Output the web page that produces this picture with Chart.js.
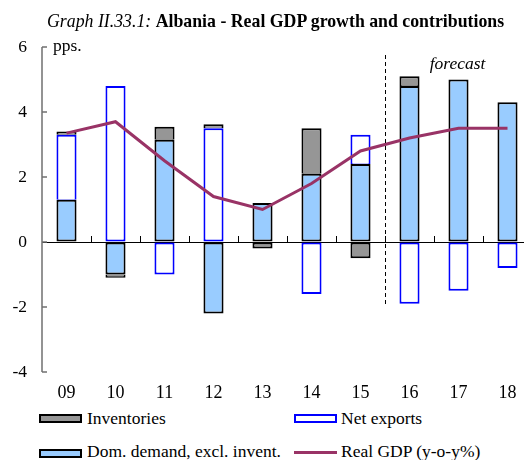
<!DOCTYPE html>
<html>
<head>
<meta charset="utf-8">
<script src="https://cdn.jsdelivr.net/npm/chart.js@4.4.1/dist/chart.umd.min.js"></script>
<style>
html, body { margin: 0; padding: 0; overflow: hidden; background: #fff; }
body { font-family: "Liberation Serif", "Times New Roman", serif; color: #000; }
#wrap { position: relative; width: 524px; height: 460px; overflow: hidden; }
#myChart { position: absolute; left: 0; top: 0; }
.txt { position: absolute; font-size: 17.5px; line-height: 18px; white-space: nowrap; }
.box { position: absolute; width: 39px; height: 5px; border: 2px solid #000; }
.gdpline { position: absolute; width: 43px; height: 3px; background: #993366; }
</style>
</head>
<body>
<div id="wrap">
  <canvas id="myChart" width="532" height="400"></canvas>
  <div class="txt" style="left:47px; top:12px; font-size:17.8px;"><i>Graph II.33.1:</i> <b>Albania - Real GDP growth and contributions</b></div>
  <div class="txt" style="left:53px; top:36px;">pps.</div>

  <div class="box" style="left:39px; top:414px; background:#969696;"></div>
  <div class="txt" style="left:87px; top:409px;">Inventories</div>
  <div class="box" style="left:294px; top:414px; background:#fff; border-color:#0000ff;"></div>
  <div class="txt" style="left:341px; top:409px;">Net exports</div>

  <div class="box" style="left:39px; top:449px; background:#99ccff;"></div>
  <div class="txt" style="left:87px; top:442px;">Dom. demand, excl. invent.</div>
  <div class="gdpline" style="left:294px; top:451px;"></div>
  <div class="txt" style="left:341px; top:442px;">Real GDP (y-o-y%)</div>
</div>
<script>
const ctx = document.getElementById('myChart');

// data
const years = ['09', '10', '11', '12', '13', '14', '15', '16', '17', '18'];
const domDemand = [1.3, -1.0, 3.15, -2.2, 1.2, 2.1, 2.4, 4.8, 5.0, 4.3];
const netExports = [2.0, 4.8, -1.0, 3.5, null, -1.6, 0.9, -1.9, -1.5, -0.8];
const inventories = [0.1, -0.1, 0.4, 0.12, -0.2, 1.4, -0.5, 0.3, null, null];
const realGdp = [3.35, 3.7, 2.5, 1.4, 1.0, 1.8, 2.8, 3.2, 3.5, 3.5];

const stackOrder = [domDemand, netExports, inventories];
const firstForecast = 7; // index of '16'
const serif = '"Liberation Serif", "Times New Roman", serif';

// thinner border on the side where a segment sits on another one
const segmentBorder = (c) => {
    let v = stackOrder[c.datasetIndex][c.dataIndex];
    let stacked = false;
    for (let d = 0; d < c.datasetIndex; d++) {
        let w = stackOrder[d][c.dataIndex];
        if (w != null && Math.sign(w) === Math.sign(v)) stacked = true;
    }
    let bw = { top: 2, bottom: 2, left: 2, right: 2 };
    if (stacked) {
        if (v > 0) bw.bottom = 0.5;
        else bw.top = 0.5;
    }
    return bw;
};

// axis line, inward ticks, forecast marker
const decorations = {
    id: 'decorations',
    afterDatasetsDraw(chart) {
        let x = chart.scales.x;
        let y = chart.scales.y;
        let area = chart.chartArea;
        let c = chart.ctx;
        let zero = y.getPixelForValue(0);
        let half = (x.getPixelForValue(1) - x.getPixelForValue(0)) / 2;

        c.save();
        // small ticks on the zero line between categories
        c.strokeStyle = '#000';
        c.lineWidth = 1;
        c.beginPath();
        for (let i = 1; i < years.length; i++) {
            let px = Math.round(x.getPixelForValue(i) - half) + 0.5;
            c.moveTo(px, zero);
            c.lineTo(px, zero - 6);
        }
        c.stroke();

        // y axis line with inward ticks
        c.strokeStyle = '#707070';
        c.lineWidth = 1.5;
        c.beginPath();
        c.moveTo(area.left, y.getPixelForValue(y.max));
        c.lineTo(area.left, y.getPixelForValue(y.min));
        y.ticks.forEach((t) => {
            let py = y.getPixelForValue(t.value);
            c.moveTo(area.left, py);
            c.lineTo(area.left + 5, py);
        });
        c.stroke();

        // forecast divider
        let fx = Math.round(x.getPixelForValue(firstForecast) - half) + 0.5;
        c.strokeStyle = '#000';
        c.lineWidth = 1;
        c.setLineDash([4, 3]);
        c.beginPath();
        c.moveTo(fx, area.top + 8);
        c.lineTo(fx, y.getPixelForValue(-2));
        c.stroke();
        c.setLineDash([]);

        c.fillStyle = '#000';
        c.font = 'italic 17.5px ' + serif;
        c.textAlign = 'center';
        c.textBaseline = 'alphabetic';
        c.fillText('forecast', x.getPixelForValue(8) - 1, area.top + 22);
        c.restore();
    }
};

const barStyle = {
    type: 'bar',
    stack: 'contrib',
    borderWidth: segmentBorder,
    borderSkipped: false,
    barPercentage: 0.41,
    categoryPercentage: 1,
    order: 1
};

new Chart(ctx, {
    data: {
        labels: years,
        datasets: [
            Object.assign({}, barStyle, {
                label: 'Dom. demand, excl. invent.',
                data: domDemand,
                backgroundColor: '#99ccff',
                borderColor: '#000000'
            }),
            Object.assign({}, barStyle, {
                label: 'Net exports',
                data: netExports,
                backgroundColor: '#ffffff',
                borderColor: '#0000ff'
            }),
            Object.assign({}, barStyle, {
                label: 'Inventories',
                data: inventories,
                backgroundColor: '#969696',
                borderColor: '#000000'
            }),
            {
                type: 'line',
                label: 'Real GDP (y-o-y%)',
                data: realGdp,
                stack: 'gdp',
                borderColor: '#993366',
                borderWidth: 3,
                pointRadius: 0,
                tension: 0,
                fill: false,
                order: 0
            }
        ]
    },
    options: {
        responsive: false,
        animation: false,
        devicePixelRatio: 1,
        layout: { padding: { top: 47, left: 0, right: 0, bottom: 0 } },
        plugins: {
            legend: { display: false },
            tooltip: { enabled: false },
            title: { display: false }
        },
        scales: {
            x: {
                type: 'category',
                offset: true,
                stacked: true,
                grid: { display: false, drawTicks: false },
                border: { display: false },
                ticks: {
                    color: '#000',
                    font: { family: serif, size: 18 },
                    padding: 10,
                    maxRotation: 0,
                    autoSkip: false
                },
                afterFit: (s) => { s.height = 28; }
            },
            y: {
                min: -4,
                max: 6,
                stacked: true,
                grid: {
                    drawTicks: false,
                    color: (c) => (c.tick && c.tick.value === 0 ? '#000000' : 'rgba(0,0,0,0)'),
                    lineWidth: 1
                },
                border: { display: false },
                ticks: {
                    stepSize: 2,
                    color: '#000',
                    font: { family: serif, size: 17.5 },
                    padding: 15
                },
                afterFit: (s) => { s.width = 42; }
            }
        }
    },
    plugins: [decorations]
});
</script>
</body>
</html>
